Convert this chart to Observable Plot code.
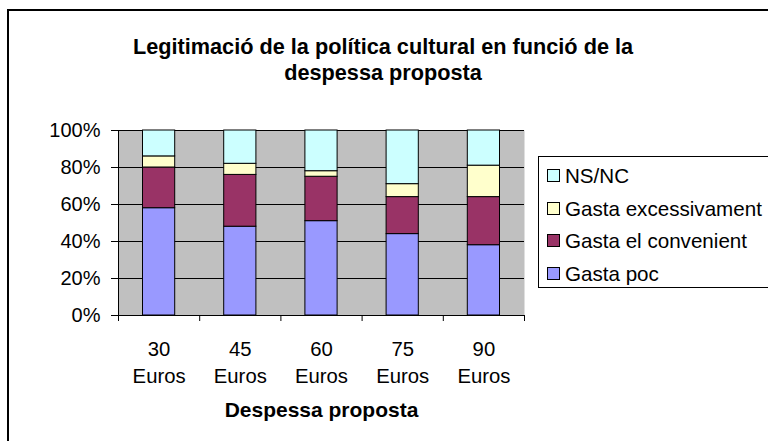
<!DOCTYPE html>
<html><head><meta charset="utf-8">
<script src="https://cdn.jsdelivr.net/npm/d3@7"></script>
<script src="https://cdn.jsdelivr.net/npm/@observablehq/plot@0.6"></script>
<style>
body{margin:0;background:#fff;}
#wrap{position:relative;width:768px;height:441px;overflow:hidden;font-family:"Liberation Sans",Arial,sans-serif;background:#fff;}
#frame{position:absolute;left:7px;top:9px;width:820px;height:520px;border:2px solid #000;box-sizing:border-box;}
#title{position:absolute;left:0;width:766px;top:34px;text-align:center;font-weight:bold;font-size:21.7px;line-height:26px;color:#000;}
#chart{position:absolute;left:0;top:0;}
#legend{position:absolute;left:538px;top:156px;width:280px;height:132px;border:1px solid #000;box-sizing:border-box;background:#fff;}
.item{position:absolute;left:8px;height:24px;font-size:20.6px;line-height:24px;white-space:nowrap;color:#000;}
.sw{display:inline-block;width:11px;height:11px;border:1px solid #000;vertical-align:middle;margin-right:5px;position:relative;top:-2px;}
</style></head>
<body>
<div id="wrap">
  <div id="frame"></div>
  <div id="chart"></div>
  <div id="title">Legitimació de la política cultural en funció de la<br>despessa proposta</div>
  <div id="legend"></div>
</div>
<script>
const categories = ["30", "45", "60", "75", "90"];
const unitLabel = "Euros";
const xTitle = "Despessa proposta";
const series = ["Gasta poc", "Gasta el convenient", "Gasta excessivament", "NS/NC"];
const gastaPoc = [58, 48, 51, 44, 38];
const gastaConvenient = [22, 28, 24, 20, 26];
const gastaExcessivament = [6, 6, 3, 7, 17];
const nsnc = [14, 18, 22, 29, 19];
const colors = ["#9999FF", "#993366", "#FFFFCC", "#CCFFFF"];
const yTicks = [0, 20, 40, 60, 80, 100];

const valuesBySeries = [gastaPoc, gastaConvenient, gastaExcessivament, nsnc];
const rows = [];
categories.forEach((c, i) => {
  series.forEach((s, j) => {
    rows.push({i, category: c, series: s, value: valuesBySeries[j][i]});
  });
});

const chart = Plot.plot({
  width: 768,
  height: 441,
  marginLeft: 118,
  marginRight: 244,
  marginTop: 130,
  marginBottom: 126,
  style: {fontFamily: '"Liberation Sans", Arial, sans-serif', fontSize: "20px", background: "transparent", color: "#000"},
  x: {type: "linear", domain: [0, categories.length], axis: null},
  y: {domain: [0, 100], axis: null},
  color: {domain: series, range: colors},
  marks: [
    Plot.frame({fill: "#C0C0C0", stroke: "none"}),
    Plot.ruleY(yTicks, {stroke: "#000", strokeWidth: 1}),
    Plot.rectY(rows, {x1: d => d.i, x2: d => d.i + 1, y: "value", fill: "series", stroke: "#000", strokeWidth: 1, insetLeft: 24.5, insetRight: 24.5}),
    Plot.ruleX([0], {stroke: "#000"}),
    Plot.axisY({ticks: yTicks, tickSize: 7, tickPadding: 11, tickFormat: d => d + "%", fontSize: 20, label: null}),
    Plot.axisX({ticks: d3.range(categories.length + 1), tickSize: 6, tickFormat: () => "", label: null}),
    Plot.text(categories, {x: (d, i) => i + 0.5, y: () => 0, text: d => d + "\n" + unitLabel, dy: 45, lineHeight: 1.35, fontSize: 20.3}),
    Plot.text([xTitle], {frameAnchor: "bottom", dy: 101, fontWeight: "bold", fontSize: 21})
  ]
});
document.getElementById("chart").appendChild(chart);

// Legend (top to bottom: reversed series order)
const legend = document.getElementById("legend");
const legendOrder = series.map((s, j) => ({s, c: colors[j]})).reverse();
legendOrder.forEach((d, k) => {
  const item = document.createElement("div");
  item.className = "item";
  item.style.top = (7 + k * 32.7) + "px";
  const sw = document.createElement("span");
  sw.className = "sw";
  sw.style.background = d.c;
  item.appendChild(sw);
  item.appendChild(document.createTextNode(d.s));
  legend.appendChild(item);
});
</script>
</body></html>
